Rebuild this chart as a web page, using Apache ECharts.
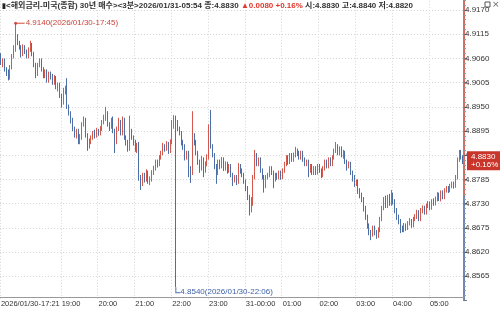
<!DOCTYPE html>
<html><head><meta charset="utf-8">
<script src="https://cdn.jsdelivr.net/npm/echarts@6/dist/echarts.min.js"></script>
<style>html,body{margin:0;padding:0;background:#fff}#c{width:500px;height:314px}</style>
</head><body><div id="c"></div>
<script>
const titleName = '<해외금리-미국(종합) 30년 매수><3분>';
const prevClose = 4.8750;
const opens = [
4.9065,4.9050,4.9055,4.9035,4.9030,4.9015,4.9040,4.9065,4.9080,4.9110,
4.9095,4.9085,4.9070,4.9088,4.9075,4.9065,4.9080,4.9090,4.9070,4.9045,
4.9025,4.9045,4.9055,4.9035,4.9020,4.9030,4.9010,4.9025,4.9020,4.9005,
4.9015,4.8995,4.9000,4.8975,4.8960,4.8985,4.8990,4.8950,4.8935,4.8920,
4.8900,4.8885,4.8895,4.8870,4.8880,4.8910,4.8920,4.8885,4.8860,4.8870,
4.8880,4.8890,4.8885,4.8895,4.8890,4.8900,4.8915,4.8925,4.8935,4.8910,
4.8905,4.8920,4.8895,4.8870,4.8900,4.8915,4.8890,4.8920,4.8880,4.8870,
4.8855,4.8895,4.8880,4.8870,4.8855,4.8860,4.8790,4.8775,4.8795,4.8785,
4.8800,4.8780,4.8785,4.8800,4.8810,4.8825,4.8820,4.8835,4.8845,4.8860,
4.8855,4.8865,4.8850,4.8870,4.8905,4.8925,4.8915,4.8900,4.8890,4.8870,
4.8860,4.8835,4.8845,4.8810,4.8800,4.8880,4.8870,4.8845,4.8825,4.8810,
4.8830,4.8805,4.8820,4.8835,4.8905,4.8860,4.8840,4.8815,4.8800,4.8825,
4.8815,4.8830,4.8810,4.8820,4.8805,4.8815,4.8795,4.8785,4.8790,4.8780,
4.8815,4.8805,4.8795,4.8780,4.8765,4.8745,4.8715,4.8730,4.8790,4.8840,
4.8820,4.8830,4.8805,4.8790,4.8770,4.8790,4.8795,4.8810,4.8800,4.8785,
4.8795,4.8790,4.8800,4.8790,4.8805,4.8820,4.8835,4.8825,4.8840,4.8830,
4.8840,4.8850,4.8845,4.8835,4.8845,4.8830,4.8820,4.8825,4.8805,4.8815,
4.8800,4.8810,4.8800,4.8815,4.8805,4.8795,4.8810,4.8825,4.8815,4.8830,
4.8820,4.8835,4.8850,4.8860,4.8845,4.8855,4.8840,4.8845,4.8825,4.8815,
4.8820,4.8800,4.8790,4.8775,4.8780,4.8760,4.8750,4.8740,4.8720,4.8700,
4.8680,4.8665,4.8660,4.8675,4.8665,4.8655,4.8670,4.8695,4.8720,4.8740,
4.8725,4.8745,4.8730,4.8750,4.8735,4.8715,4.8700,4.8690,4.8675,4.8670,
4.8680,4.8675,4.8685,4.8690,4.8680,4.8695,4.8700,4.8710,4.8695,4.8715,
4.8720,4.8710,4.8725,4.8730,4.8720,4.8735,4.8730,4.8740,4.8750,4.8740,
4.8755,4.8745,4.8760,4.8765,4.8760,4.8770,4.8775,4.8770,4.8790,4.8830,
4.8850,4.8830];
const closes = [
4.9050,4.9055,4.9035,4.9030,4.9015,4.9040,4.9065,4.9080,4.9110,4.9095,
4.9085,4.9070,4.9088,4.9075,4.9065,4.9080,4.9090,4.9070,4.9045,4.9025,
4.9045,4.9055,4.9035,4.9020,4.9030,4.9010,4.9025,4.9020,4.9005,4.9015,
4.8995,4.9000,4.8975,4.8960,4.8985,4.8990,4.8950,4.8935,4.8920,4.8900,
4.8885,4.8895,4.8870,4.8880,4.8910,4.8920,4.8885,4.8860,4.8870,4.8880,
4.8890,4.8885,4.8895,4.8890,4.8900,4.8915,4.8925,4.8935,4.8910,4.8905,
4.8920,4.8895,4.8870,4.8900,4.8915,4.8890,4.8920,4.8880,4.8870,4.8855,
4.8895,4.8880,4.8870,4.8855,4.8860,4.8790,4.8775,4.8795,4.8785,4.8800,
4.8780,4.8785,4.8800,4.8810,4.8825,4.8820,4.8835,4.8845,4.8860,4.8855,
4.8865,4.8850,4.8870,4.8905,4.8925,4.8915,4.8900,4.8890,4.8870,4.8860,
4.8835,4.8845,4.8810,4.8800,4.8880,4.8870,4.8845,4.8825,4.8810,4.8830,
4.8805,4.8820,4.8835,4.8905,4.8860,4.8840,4.8815,4.8800,4.8825,4.8815,
4.8830,4.8810,4.8820,4.8805,4.8815,4.8795,4.8785,4.8790,4.8780,4.8815,
4.8805,4.8795,4.8780,4.8765,4.8745,4.8715,4.8730,4.8790,4.8840,4.8820,
4.8830,4.8805,4.8790,4.8770,4.8790,4.8795,4.8810,4.8800,4.8785,4.8795,
4.8790,4.8800,4.8790,4.8805,4.8820,4.8835,4.8825,4.8840,4.8830,4.8840,
4.8850,4.8845,4.8835,4.8845,4.8830,4.8820,4.8825,4.8805,4.8815,4.8800,
4.8810,4.8800,4.8815,4.8805,4.8795,4.8810,4.8825,4.8815,4.8830,4.8820,
4.8835,4.8850,4.8860,4.8845,4.8855,4.8840,4.8845,4.8825,4.8815,4.8820,
4.8800,4.8790,4.8775,4.8780,4.8760,4.8750,4.8740,4.8720,4.8700,4.8680,
4.8665,4.8660,4.8675,4.8665,4.8655,4.8670,4.8695,4.8720,4.8740,4.8725,
4.8745,4.8730,4.8750,4.8735,4.8715,4.8700,4.8690,4.8675,4.8670,4.8680,
4.8675,4.8685,4.8690,4.8680,4.8695,4.8700,4.8710,4.8695,4.8715,4.8720,
4.8710,4.8725,4.8730,4.8720,4.8735,4.8730,4.8740,4.8750,4.8740,4.8755,
4.8745,4.8760,4.8765,4.8760,4.8770,4.8775,4.8770,4.8790,4.8830,4.8850,
4.8835,4.8830];
const lows = [
4.9045,4.9040,4.9030,4.9020,4.9010,4.9012,4.9035,4.9060,4.9075,4.9090,
4.9080,4.9062,4.9065,4.9070,4.9060,4.9060,4.9075,4.9065,4.9040,4.9015,
4.9020,4.9040,4.9030,4.9015,4.9015,4.9005,4.9005,4.9012,4.9000,4.9000,
4.8990,4.8985,4.8970,4.8948,4.8955,4.8978,4.8945,4.8930,4.8912,4.8895,
4.8880,4.8878,4.8865,4.8865,4.8875,4.8905,4.8880,4.8850,4.8855,4.8865,
4.8875,4.8878,4.8880,4.8884,4.8885,4.8895,4.8910,4.8918,4.8905,4.8895,
4.8900,4.8890,4.8845,4.8865,4.8895,4.8885,4.8885,4.8875,4.8862,4.8848,
4.8850,4.8875,4.8862,4.8848,4.8845,4.8782,4.8761,4.8770,4.8778,4.8780,
4.8775,4.8772,4.8780,4.8795,4.8805,4.8812,4.8815,4.8830,4.8840,4.8848,
4.8850,4.8843,4.8845,4.8865,4.8900,4.8540,4.8895,4.8885,4.8862,4.8852,
4.8828,4.8830,4.8790,4.8777,4.8795,4.8862,4.8840,4.8818,4.8800,4.8805,
4.8790,4.8800,4.8815,4.8830,4.8855,4.8835,4.8808,4.8775,4.8795,4.8808,
4.8810,4.8804,4.8805,4.8798,4.8800,4.8790,4.8770,4.8778,4.8772,4.8775,
4.8798,4.8790,4.8775,4.8758,4.8738,4.8703,4.8710,4.8725,4.8785,4.8815,
4.8815,4.8800,4.8785,4.8755,4.8765,4.8785,4.8790,4.8795,4.8765,4.8780,
4.8784,4.8785,4.8784,4.8786,4.8800,4.8815,4.8818,4.8820,4.8825,4.8825,
4.8835,4.8838,4.8830,4.8830,4.8825,4.8815,4.8815,4.8790,4.8800,4.8795,
4.8795,4.8795,4.8796,4.8800,4.8788,4.8790,4.8805,4.8810,4.8810,4.8815,
4.8815,4.8830,4.8845,4.8840,4.8840,4.8835,4.8832,4.8820,4.8805,4.8810,
4.8795,4.8780,4.8768,4.8770,4.8752,4.8742,4.8733,4.8712,4.8693,4.8673,
4.8658,4.8647,4.8655,4.8658,4.8650,4.8652,4.8665,4.8690,4.8715,4.8720,
4.8720,4.8725,4.8725,4.8728,4.8708,4.8693,4.8683,4.8663,4.8665,4.8665,
4.8668,4.8670,4.8680,4.8675,4.8676,4.8690,4.8695,4.8690,4.8690,4.8708,
4.8705,4.8705,4.8720,4.8715,4.8716,4.8725,4.8726,4.8735,4.8736,4.8735,
4.8740,4.8740,4.8755,4.8754,4.8756,4.8765,4.8764,4.8766,4.8785,4.8825,
4.8830,4.8820];
const highs = [
4.9072,4.9060,4.9060,4.9040,4.9035,4.9045,4.9070,4.9090,4.9140,4.9115,
4.9100,4.9090,4.9092,4.9090,4.9080,4.9085,4.9100,4.9095,4.9075,4.9050,
4.9050,4.9060,4.9060,4.9040,4.9035,4.9035,4.9030,4.9030,4.9025,4.9022,
4.9020,4.9005,4.9005,4.8980,4.8993,4.8998,4.9015,4.8955,4.8940,4.8925,
4.8905,4.8900,4.8900,4.8888,4.8915,4.8928,4.8925,4.8890,4.8878,4.8885,
4.8895,4.8898,4.8902,4.8900,4.8906,4.8920,4.8932,4.8950,4.8940,4.8915,
4.8925,4.8928,4.8900,4.8905,4.8925,4.8920,4.8928,4.8925,4.8885,4.8875,
4.8930,4.8900,4.8885,4.8875,4.8868,4.8870,4.8795,4.8800,4.8800,4.8808,
4.8805,4.8792,4.8806,4.8816,4.8830,4.8830,4.8840,4.8850,4.8868,4.8865,
4.8872,4.8870,4.8876,4.8920,4.8931,4.8930,4.8920,4.8905,4.8895,4.8875,
4.8865,4.8850,4.8850,4.8815,4.8940,4.8890,4.8875,4.8850,4.8830,4.8838,
4.8835,4.8826,4.8842,4.8910,4.8943,4.8865,4.8845,4.8820,4.8830,4.8830,
4.8836,4.8835,4.8826,4.8825,4.8820,4.8820,4.8800,4.8795,4.8795,4.8822,
4.8820,4.8810,4.8800,4.8785,4.8770,4.8750,4.8745,4.8795,4.8852,4.8845,
4.8835,4.8835,4.8810,4.8795,4.8795,4.8800,4.8815,4.8815,4.8805,4.8800,
4.8800,4.8805,4.8805,4.8810,4.8825,4.8840,4.8840,4.8845,4.8845,4.8846,
4.8859,4.8855,4.8850,4.8850,4.8850,4.8835,4.8830,4.8830,4.8820,4.8820,
4.8815,4.8815,4.8820,4.8820,4.8810,4.8815,4.8830,4.8830,4.8835,4.8835,
4.8840,4.8855,4.8870,4.8865,4.8860,4.8860,4.8852,4.8850,4.8830,4.8826,
4.8825,4.8805,4.8795,4.8785,4.8785,4.8765,4.8755,4.8745,4.8725,4.8705,
4.8685,4.8670,4.8680,4.8680,4.8670,4.8676,4.8700,4.8725,4.8745,4.8748,
4.8750,4.8752,4.8761,4.8755,4.8740,4.8720,4.8705,4.8695,4.8680,4.8686,
4.8685,4.8690,4.8697,4.8695,4.8700,4.8706,4.8716,4.8715,4.8720,4.8726,
4.8725,4.8730,4.8736,4.8735,4.8740,4.8742,4.8746,4.8756,4.8755,4.8760,
4.8760,4.8765,4.8770,4.8770,4.8775,4.8780,4.8780,4.8795,4.8835,4.8852,
4.8852,4.8840];
const yMin = 4.8510, yMax = 4.9225, yStep = 0.0055;

// categories: 3-minute bars starting 2026/01/30 17:21
const times = [];
for (let i = 0; i < closes.length; i++) {
  const m = 17 * 60 + 21 + 3 * i;
  const d = m >= 1440 ? '31' : '30';
  const hh = String(Math.floor(m / 60) % 24).padStart(2, '0');
  const mm = String(m % 60).padStart(2, '0');
  times.push('2026/01/' + d + '-' + hh + ':' + mm);
}
const ohlc = opens.map((o, i) => [o, closes[i], lows[i], highs[i]]);
const last = closes.length - 1;
let iMax = 0, iMin = 0;
highs.forEach((v, i) => { if (v > highs[iMax]) iMax = i; });
lows.forEach((v, i) => { if (v < lows[iMin]) iMin = i; });
const chg = closes[last] - prevClose;
const pct = chg / prevClose * 100;

const RED = '#d23a2e', BLUE = '#3a62a6';
const FONT = "'Liberation Sans','Noto Sans CJK KR',sans-serif";
const showHour = (idx, val) => idx === 0 || (val.slice(-3) === ':00' && idx > 20);
const redFrac = (yMax - prevClose) / (yMax - yMin);

const chart = echarts.init(document.getElementById('c'), null, {renderer: 'canvas'});
chart.setOption({
  animation: false,
  title: {
    left: 2, top: 2, padding: 0,
    text: '{b|▮}{a|' + titleName + times[last] + ' 종:' + closes[last].toFixed(4) + ' }' +
      '{r|▲' + chg.toFixed(4) + ' +' + pct.toFixed(2) + '%}' +
      '{a| 시:' + opens[last].toFixed(4) + ' 고:' + highs[last].toFixed(4) + ' 저:' + lows[last].toFixed(4) + '}',
    textStyle: {
      rich: {
        a: {fontFamily: FONT, fontSize: 8, color: '#333'},
        r: {fontFamily: FONT, fontSize: 8, color: '#e0362b'},
        b: {fontFamily: FONT, fontSize: 7, color: '#222'}
      }
    }
  },
  graphic: [
    {type: 'rect', shape: {x: 485, y: 2, width: 5, height: 5}, style: {fill: '#fff', stroke: '#555', lineWidth: 1}},
    {type: 'text', x: 492, y: 0, style: {text: '×', fontSize: 9, fill: '#666', fontFamily: 'DejaVu Sans'}}
  ],
  grid: {left: 0, right: 36, top: -14.2, bottom: 13.6, containLabel: false, outerBoundsMode: 'none'},
  xAxis: {
    type: 'category', data: times, boundaryGap: true, offset: -3.4,
    axisLine: {lineStyle: {color: '#999', width: 1}},
    axisTick: {interval: showHour, length: 4, lineStyle: {color: '#888'}},
    axisLabel: {
      interval: showHour, showMinLabel: true, hideOverlap: false, align: 'left', margin: 3, color: '#333', fontSize: 7.5, fontFamily: FONT,
      formatter: (v, idx) => idx === 0 ? v : (v.slice(-5) === '00:00' ? v.slice(8, 10) + '-00:00' : v.slice(-5))
    },
    splitLine: {show: true, interval: showHour, lineStyle: {color: '#d6d6d6', type: [1, 2]}}
  },
  yAxis: {
    type: 'value', position: 'right', min: yMin, max: yMax, interval: yStep,
    axisLine: {show: true, lineStyle: {width: 1.5, color: new echarts.graphic.LinearGradient(0, 0, 0, 1, [
      {offset: 0, color: RED}, {offset: redFrac, color: RED}, {offset: redFrac, color: BLUE}, {offset: 1, color: BLUE}])}},
    axisTick: {show: true, length: 3, lineStyle: {color: '#777'}},
    minorTick: {show: true, splitNumber: 5, length: 2, lineStyle: {color: '#999'}},
    axisLabel: {showMinLabel: false, margin: 1, color: '#333', fontSize: 8, fontFamily: FONT, formatter: v => v.toFixed(4)},
    splitLine: {show: true, showMinLine: false, lineStyle: {color: '#d6d6d6', type: [1, 2]}}
  },
  series: [{
    type: 'candlestick', data: ohlc, barWidth: 1.2, z: 3,
    itemStyle: {color: '#d9574c', color0: '#4a6cab', borderColor: '#d0463a', borderColor0: '#3a5f9f', borderWidth: 1, opacity: 0.9},
    markPoint: {
      silent: true,
      data: [
        {coord: [times[iMax], highs[iMax]], symbol: 'rect', symbolSize: [8, 1], symbolOffset: [5, 0],
          itemStyle: {color: '#d04a3e', opacity: 1},
          label: {show: true, position: 'right', distance: 1, color: '#c8453a', fontSize: 8, fontFamily: FONT,
            formatter: highs[iMax].toFixed(4) + '(' + times[iMax] + ')'}},
        {coord: [times[iMax], highs[iMax]], symbol: 'circle', symbolSize: 3, itemStyle: {color: '#d04a3e', opacity: 1}, label: {show: false}},
        {coord: [times[iMin], lows[iMin]], symbol: 'path://M0,0 L1,0 L1,5 L5,5 L5,6 L0,6 Z', symbolSize: [5, 6], symbolKeepAspect: false,
          symbolOffset: [2, 3], itemStyle: {color: '#4d6fae', opacity: 1},
          label: {show: true, position: 'right', distance: 0, offset: [0, 2], color: '#3d62a8', fontSize: 8, fontFamily: FONT,
            formatter: lows[iMin].toFixed(4) + '(' + times[iMin] + ')'}}
      ]
    },
    markLine: {
      silent: true, symbol: 'none', z: 10,
      lineStyle: {width: 0, color: 'rgba(0,0,0,0)'},
      data: [{yAxis: closes[last]}],
      label: {show: true, position: 'end', distance: 3, offset: [0, -12], color: '#fff', backgroundColor: '#c9352b',
        fontSize: 8, lineHeight: 8, padding: [2, 2, 1, 4], fontFamily: FONT,
        formatter: closes[last].toFixed(4) + '\n+' + pct.toFixed(2) + '%'}
    }
  }]
});
</script></body></html>
